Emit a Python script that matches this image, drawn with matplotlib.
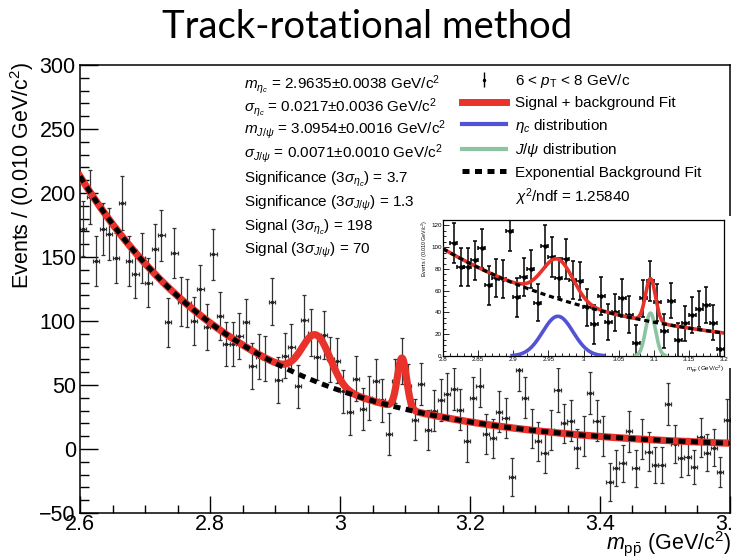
import numpy as np
import matplotlib.pyplot as plt
from matplotlib.ticker import MultipleLocator, FuncFormatter
from matplotlib.patches import Rectangle
from matplotlib.lines import Line2D

plt.rcParams['font.family'] = ['Liberation Sans', 'DejaVu Sans']
plt.rcParams['mathtext.fontset'] = 'custom'
plt.rcParams['mathtext.rm'] = 'Liberation Sans'
plt.rcParams['mathtext.it'] = 'Liberation Sans:italic'
plt.rcParams['mathtext.bf'] = 'Liberation Sans:bold'

# --- data: 100 bins of 0.010 GeV/c^2 from 2.6 to 3.6 ---
mass_lo, bin_width = 2.6, 0.01
counts = [172, 197, 147, 172, 168, 149, 192, 147, 137, 149,
          130, 156, 167, 99, 153, 115, 114, 100, 125, 95,
          152, 104, 82, 82, 88, 99, 65, 72, 71, 115,
          54, 73, 80, 49, 101, 91, 72, 89, 70, 69,
          45, 29, 55, 31, 40, 53, 38, 12, 53, 69,
          49.5, 23, 51, 15, 30, 38, 43, 47, 30.5, 6,
          40, 49, 11.5, 8.3, 29, 24, -21.6, 62, 40, 16,
          6, -3, 15, 46, 20, 22, 0.5, 10, 44, 22,
          10, -26, -15, -11, 14, -15, 8, -2, -12.5, -12.5,
          35, 4, -7, -6, -14, 9, -3, 1, -18, 23]
errors = [21.5, 21, 19.7, 20.5, 20, 19.5, 21, 19.5, 19, 19.5,
          19, 19.5, 20, 19, 19.5, 19, 18.5, 18.5, 19, 18,
          20, 18.5, 17.5, 17.5, 18, 18, 17.8, 17.5, 17.5, 18.5,
          18, 17.5, 17.5, 17, 19, 18.5, 18, 18.5, 17.5, 17.5,
          17, 17.8, 17.5, 16.5, 17, 17.5, 17, 16.3, 17, 18,
          17, 16, 16.5, 15.5, 16, 16.5, 16.7, 16.5, 16, 16.3,
          16.5, 16.5, 15.5, 15.5, 16, 15.5, 14.8, 17, 16, 15.5,
          15, 15.6, 15.5, 17, 15.5, 16, 15, 15.5, 16.5, 16,
          15.5, 15, 14, 14.5, 16, 14.5, 15.5, 15, 14, 14,
          16.3, 15, 14.5, 14.5, 13.4, 15, 14.5, 14.5, 12, 16]

# fit results
bkg_norm, bkg_slope = 213.0, -3.85          # exponential background, value at 2.6
etac_mass, etac_sigma, etac_signal = 2.9635, 0.0217, 198
jpsi_mass, jpsi_sigma, jpsi_signal = 3.0954, 0.0071, 70

info_lines = [
    r'$m_{\eta_{c}}$ = 2.9635±0.0038 GeV/c$^{2}$',
    r'$\sigma_{\eta_{c}}$ = 0.0217±0.0036 GeV/c$^{2}$',
    r'$m_{J/\psi}$ = 3.0954±0.0016 GeV/c$^{2}$',
    r'$\sigma_{J/\psi}$ = 0.0071±0.0010 GeV/c$^{2}$',
    r'Significance (3$\sigma_{\eta_{c}}$) = 3.7',
    r'Significance (3$\sigma_{J/\psi}$) = 1.3',
    r'Signal (3$\sigma_{\eta_{c}}$) = 198',
    r'Signal (3$\sigma_{J/\psi}$) = 70',
]

RED, BLUE, GREEN = '#e8322a', '#5252d6', '#8cc4a2'

x = mass_lo + bin_width * (np.arange(len(counts)) + 0.5)
counts = np.array(counts)
errors = np.array(errors)


def background(m):
    return bkg_norm * np.exp(bkg_slope * (m - mass_lo))


def gauss(m, signal, mu, s):
    n = signal / 0.9973  # signal quoted in +-3 sigma
    return n * bin_width / (np.sqrt(2 * np.pi) * s) * np.exp(-0.5 * ((m - mu) / s) ** 2)


xs = np.linspace(2.6, 3.6, 3000)
bkg = background(xs)
total = bkg + gauss(xs, etac_signal, etac_mass, etac_sigma) + gauss(xs, jpsi_signal, jpsi_mass, jpsi_sigma)

W, H = 734, 559
fig = plt.figure(figsize=(W / 100, H / 100), dpi=100)

fig.text(0.5, 1 - 27 / H, 'Track-rotational method', ha='center', va='center',
         fontsize=27.5, family='Lato')

# --- main axes ---
ax = fig.add_axes([80 / W, 1 - 513 / H, 650 / W, 448 / H])
ax.errorbar(x, counts, yerr=errors, xerr=bin_width / 2, fmt='o', ms=1.5,
            color='#222222', ecolor='#333333', elinewidth=0.9, capsize=1.5, capthick=0.9, zorder=2)
ax.plot(xs, total, color=RED, lw=5.2, zorder=3)
ax.plot(xs, bkg, color='k', lw=3.6, dashes=(1.4, 1.1), zorder=4)

ax.set_xlim(2.6, 3.6)
ax.set_ylim(-50, 300)
ax.xaxis.set_major_locator(MultipleLocator(0.2))
ax.xaxis.set_minor_locator(MultipleLocator(0.05))
ax.yaxis.set_major_locator(MultipleLocator(50))
ax.yaxis.set_minor_locator(MultipleLocator(10))
ax.xaxis.set_major_formatter(FuncFormatter(lambda v, p: '%g' % round(v, 3)))
ax.tick_params(which='both', direction='in', labelsize=15.5, width=1)
ax.tick_params(axis='y', which='major', length=13, pad=3)
ax.tick_params(axis='y', which='minor', length=6.5)
ax.tick_params(axis='x', which='major', length=12, pad=1)
ax.tick_params(axis='x', which='minor', length=6)
for sp in ax.spines.values():
    sp.set_linewidth(1.1)

fig.text(22 / W, 1 - 62 / H, 'Events / (0.010 GeV/c$^{2}$)', rotation=90,
         ha='center', va='top', fontsize=15.5)
fig.text(731 / W, 1 - 543 / H, r'$m_{\mathrm{p}\bar{\mathrm{p}}}$ (GeV/c$^{2}$)',
         ha='right', va='center', fontsize=15.5)

for i, line in enumerate(info_lines):
    y_center = [83, 106, 128, 152, 177, 201, 225, 248][i]
    fig.text(244 / W, 1 - (y_center + 5.5) / H, line, ha='left', va='baseline', fontsize=11)

# legend
pt_proxy = ax.errorbar([], [], yerr=[], fmt='o', ms=1.5, color='k', elinewidth=1,
                       capsize=3, capthick=1)
handles = [pt_proxy,
           Line2D([], [], color=RED, lw=5),
           Line2D([], [], color=BLUE, lw=3),
           Line2D([], [], color=GREEN, lw=3),
           Line2D([], [], color='k', lw=3.6, dashes=(1.4, 1.1)),
           Line2D([], [], color='none')]
labels = [r'6 < $p_{\mathrm{T}}$ < 8 GeV/c', 'Signal + background Fit',
          r'$\eta_{c}$ distribution', r'$J/\psi$ distribution',
          'Exponential Background Fit', r'$\chi^{2}$/ndf = 1.25840']
ax.legend(handles, labels, loc='upper left', bbox_to_anchor=(462 / W, 1 - 72 / H),
          bbox_transform=fig.transFigure, frameon=False, fontsize=11,
          handlelength=2.9, handletextpad=0.6, labelspacing=0.42, borderpad=0, borderaxespad=0)

# --- inset ---
fig.patches.append(Rectangle((425 / W, 1 - 368 / H), 307 / W, 152 / H, transform=fig.transFigure,
                             facecolor='white', edgecolor='none', zorder=5))
ins = fig.add_axes([443 / W, 1 - 356 / H, 281 / W, 136 / H])
ins.set_zorder(6)
sel = (x > 2.8) & (x < 3.2)
ins.errorbar(x[sel], counts[sel], yerr=errors[sel], xerr=bin_width / 2, fmt='o', ms=2.2,
             color='k', elinewidth=1.1, capsize=1.3, capthick=1.1, zorder=2)
xi = np.linspace(2.8, 3.2, 1500)
ins.plot(xi, background(xi) + gauss(xi, etac_signal, etac_mass, etac_sigma)
         + gauss(xi, jpsi_signal, jpsi_mass, jpsi_sigma), color=RED, lw=2.6, zorder=3)
xe = np.linspace(etac_mass - 3 * etac_sigma, etac_mass + 3 * etac_sigma, 400)
ins.plot(xe, gauss(xe, etac_signal, etac_mass, etac_sigma), color=BLUE, lw=2.6, zorder=3)
xj = np.linspace(jpsi_mass - 3 * jpsi_sigma, jpsi_mass + 3 * jpsi_sigma, 400)
ins.plot(xj, gauss(xj, jpsi_signal, jpsi_mass, jpsi_sigma), color=GREEN, lw=2.6, zorder=3)
ins.plot(xi, background(xi), color='k', lw=2.3, dashes=(1.6, 1.2), zorder=4)

ins.set_xlim(2.8, 3.2)
ins.set_ylim(0, 125)
ins.xaxis.set_major_locator(MultipleLocator(0.05))
ins.xaxis.set_minor_locator(MultipleLocator(0.01))
ins.yaxis.set_major_locator(MultipleLocator(20))
ins.yaxis.set_minor_locator(MultipleLocator(5))
ins.xaxis.set_major_formatter(FuncFormatter(lambda v, p: '%g' % round(v, 3)))
ins.tick_params(which='both', direction='in', labelsize=4.5, width=0.6, pad=1)
ins.tick_params(which='major', length=4)
ins.tick_params(which='minor', length=2)
for sp in ins.spines.values():
    sp.set_linewidth(0.9)
ins.set_ylabel('Events / (0.010 GeV/c$^{2}$)', fontsize=3.8, loc='top', labelpad=1)
ins.set_xlabel(r'$m_{\mathrm{p}\bar{\mathrm{p}}}$ (GeV/c$^{2}$)', fontsize=4.5, loc='right', labelpad=1)

fig.savefig('out.png', dpi=100)
